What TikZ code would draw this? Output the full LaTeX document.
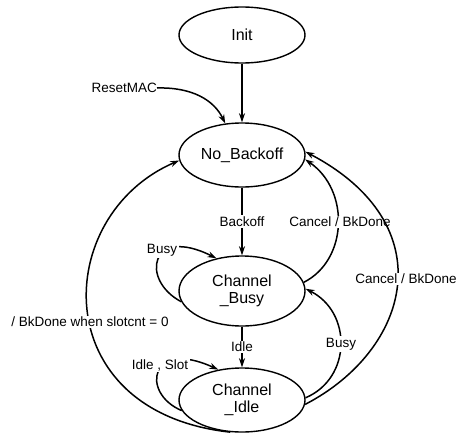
\documentclass[tikz,border=0pt]{standalone}
\usepackage{fontspec}
\setmainfont{Liberation Sans}
\usetikzlibrary{arrows.meta,shapes.geometric}
\begin{document}
\begin{tikzpicture}[x=1pt,y=-1pt,
  state/.style={draw,ellipse,line width=1.4pt,minimum width=126pt,inner sep=0pt,
    font=\fontsize{16}{17}\selectfont,align=center},
  trans/.style={line width=1.5pt,-{Stealth[length=9pt,width=6pt]}},
  lbl/.style={fill=white,inner sep=1.5pt,font=\fontsize{13.5}{14}\selectfont}]
\useasboundingbox (0,0) rectangle (457,434);

% states
\node[state,minimum height=56pt] (init) at (242,35) {Init};
\node[state,minimum height=64pt] (nb) at (242,155) {No\_Backoff};
\node[state,minimum height=70pt] (cb) at (242,291) {Channel\\\_Busy};
\node[state,minimum height=64pt] (ci) at (242,400) {Channel\\\_Idle};

% reset input
\node[lbl,fill=none,inner sep=0pt,anchor=east] (rst) at (157,88) {ResetMAC};

% transitions
\draw[trans] (init) -- (nb);
\draw[trans] (rst.east) .. controls (192,87) and (214,100) .. (nb.118);
\draw[trans] (nb) -- node[lbl] {Backoff} (cb);
\draw[trans] (cb) -- node[lbl] {Idle} (ci);

% self loops
\draw[trans] (cb.190) .. controls (140,280) and (150,225) .. (cb.128);
\node[lbl] (busyloop) at (162,250) {Busy};
\draw[trans] (ci.190) .. controls (140,393) and (150,338) .. (ci.128);
\node[lbl] (idleloop) at (160,365) {Idle , Slot};

% returns on the right
\draw[trans] (cb.8) .. controls (348,260) and (350,190) .. (nb.-4);
\node[lbl] (cancel1) at (340,222) {Cancel / BkDone};
\draw[trans] (ci.2) .. controls (352,378) and (352,312) .. (cb.2);
\node[lbl] (busyr) at (341,344) {Busy};
\draw[trans] (ci.-4) .. controls (410,350) and (445,225) .. (nb.3);
\node[lbl] (cancel2) at (406,279) {Cancel / BkDone};

% return on the left
\draw[trans] (ci.250) .. controls (45,412) and (52,215) .. (nb.185);
\node[lbl] (done) at (90,322) {/ BkDone when slotcnt = 0};
\end{tikzpicture}
\end{document}
